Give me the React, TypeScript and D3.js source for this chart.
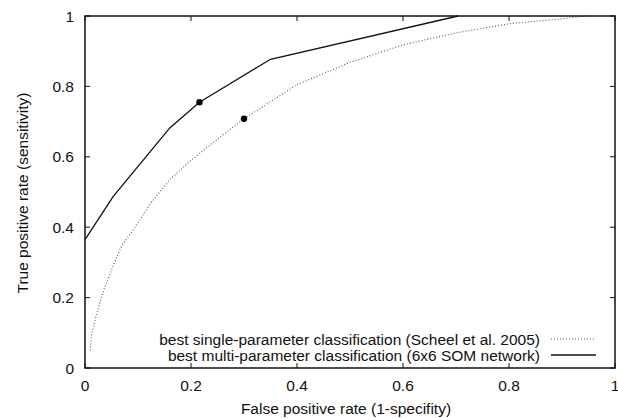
import React from 'react';
import * as d3 from 'd3';

// ROC curves: [false positive rate, true positive rate]
const singleParam: [number, number][] = [
  [0.01, 0.05], [0.012, 0.09], [0.022, 0.155], [0.035, 0.22], [0.053, 0.29],
  [0.07, 0.35], [0.09, 0.39], [0.125, 0.47], [0.16, 0.535], [0.2, 0.59],
  [0.25, 0.65], [0.3, 0.708], [0.4, 0.805], [0.5, 0.868], [0.6, 0.918],
  [0.7, 0.952], [0.8, 0.978], [0.9, 0.992], [0.945, 1.0],
];
const multiParam: [number, number][] = [
  [0, 0.365], [0.053, 0.487], [0.16, 0.682], [0.216, 0.755], [0.35, 0.877], [0.704, 1.0],
];
// operating points marked with a dot
const markedPoints: [number, number][] = [[0.216, 0.755], [0.3, 0.708]];

const xTicks = [0, 0.2, 0.4, 0.6, 0.8, 1];
const yTicks = [0, 0.2, 0.4, 0.6, 0.8, 1];
const xTickLabels = ['0', '0.2', '0.4', '0.6', '0.8', '1'];
const yTickLabels = ['0', '0.2', '0.4', '0.6', '0.8', '1'];

const legendLabels = [
  'best single-parameter classification (Scheel et al. 2005)',
  'best multi-parameter classification (6x6 SOM network)',
];

export default function App() {
  const width = 618;
  const height = 418;
  const margin = { top: 16, right: 3, bottom: 50, left: 85 };
  const x = d3.scaleLinear().domain([0, 1]).range([margin.left, width - margin.right]);
  const y = d3.scaleLinear().domain([0, 1]).range([height - margin.bottom, margin.top]);
  const line = d3.line<[number, number]>().x(d => x(d[0])).y(d => y(d[1]));
  const font = '"Liberation Sans", Arial, sans-serif';
  const tick = 5;

  return (
    <svg width={width} height={height}
      style={{ position: 'absolute', left: 0, top: 0, background: '#fff' }}
      fontFamily={font} fontSize={15.5} fill="#111">
      {/* curves */}
      <path d={line(singleParam) || ''} fill="none" stroke="#555" strokeWidth={1.1} strokeDasharray="1,2" />
      <path d={line(multiParam) || ''} fill="none" stroke="#111" strokeWidth={1.3} />
      {markedPoints.map((p, i) => (
        <circle key={i} cx={x(p[0])} cy={y(p[1])} r={3.2} fill="#000" />
      ))}

      {/* ticks, mirrored on top and right */}
      {xTicks.map((t, i) => (
        <g key={'x' + i} stroke="#111" strokeWidth={1}>
          <line x1={x(t)} x2={x(t)} y1={y(0)} y2={y(0) - tick} />
          <line x1={x(t)} x2={x(t)} y1={y(1)} y2={y(1) + tick} />
        </g>
      ))}
      {yTicks.map((t, i) => (
        <g key={'y' + i} stroke="#111" strokeWidth={1}>
          <line x1={x(0)} x2={x(0) + tick} y1={y(t)} y2={y(t)} />
          <line x1={x(1)} x2={x(1) - tick} y1={y(t)} y2={y(t)} />
        </g>
      ))}
      <rect x={x(0)} y={y(1)} width={x(1) - x(0)} height={y(0) - y(1)}
        fill="none" stroke="#111" strokeWidth={1.5} />

      {/* tick labels */}
      {xTicks.map((t, i) => (
        <text key={'xl' + i} x={x(t)} y={y(0) + 23} textAnchor="middle">{xTickLabels[i]}</text>
      ))}
      {yTicks.map((t, i) => (
        <text key={'yl' + i} x={74} y={y(t) + 5.5} textAnchor="end">{yTickLabels[i]}</text>
      ))}

      {/* axis titles */}
      <text x={(x(0) + x(1)) / 2 - 4} y={413.5} textAnchor="middle">False positive rate (1-specifity)</text>
      <text transform={`translate(28,${(y(0) + y(1)) / 2 + 1}) rotate(-90)`} textAnchor="middle">
        True positive rate (sensitivity)
      </text>

      {/* legend */}
      {legendLabels.map((l, i) => {
        const ly = 339 + i * 16;
        return (
          <g key={'lg' + i}>
            <text x={540} y={ly + 5.5} textAnchor="end">{l}</text>
            <line x1={551} x2={596} y1={ly} y2={ly}
              stroke={i === 0 ? '#555' : '#111'} strokeWidth={i === 0 ? 1.1 : 1.3}
              strokeDasharray={i === 0 ? '1,2' : undefined} />
          </g>
        );
      })}
    </svg>
  );
}
